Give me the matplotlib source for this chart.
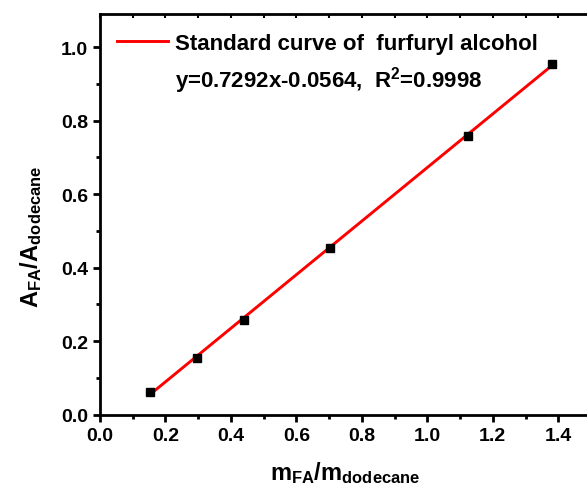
import numpy as np
import matplotlib
matplotlib.use('Agg')
import matplotlib.pyplot as plt
from matplotlib.ticker import MultipleLocator

plt.rcParams['font.family'] = ['Liberation Sans', 'DejaVu Sans']
plt.rcParams['font.weight'] = 'bold'
plt.rcParams['mathtext.fontset'] = 'custom'
plt.rcParams['mathtext.rm'] = 'Liberation Sans:bold'
plt.rcParams['mathtext.it'] = 'Liberation Sans:bold'
plt.rcParams['mathtext.bf'] = 'Liberation Sans:bold'

# measured points
m_ratio = [0.153, 0.295, 0.441, 0.704, 1.125, 1.382]
a_ratio = [0.061, 0.155, 0.258, 0.454, 0.758, 0.954]

# linear fit reported on the chart
slope = 0.7292
intercept = -0.0564

fig = plt.figure(figsize=(5.87, 5.02), dpi=100)
ax = fig.add_axes([100 / 587, (502 - 415.7) / 502, 491 / 587, 400.5 / 502])

xfit = np.array([m_ratio[0], m_ratio[-1]])
ax.plot(xfit, slope * xfit + intercept, color='red', lw=2.1, zorder=2,
        label='Standard curve of  furfuryl alcohol')
ax.plot(m_ratio, a_ratio, 's', color='black', ms=6, zorder=3)

ax.set_xlim(0, 1.5)
ax.set_ylim(0, 1.09)
ax.xaxis.set_major_locator(MultipleLocator(0.2))
ax.xaxis.set_minor_locator(MultipleLocator(0.1))
ax.yaxis.set_major_locator(MultipleLocator(0.2))
ax.yaxis.set_minor_locator(MultipleLocator(0.1))

for s in ax.spines.values():
    s.set_linewidth(2.0)
ax.tick_params(which='major', direction='out', length=5, width=2.0, labelsize=14,
               top=False, right=False)
ax.tick_params(which='minor', direction='out', length=3, width=2.0,
               top=False, right=False)
for lab in ax.get_xticklabels() + ax.get_yticklabels():
    lab.set_fontweight('bold')

# small inward ticks along the top edge
top = ax.secondary_xaxis('top')
top.xaxis.set_major_locator(MultipleLocator(0.1))
top.tick_params(direction='in', length=3, width=1.5, labeltop=False)
top.spines['top'].set_visible(False)

ax.set_xlabel(r'm$_{FA}$/m$_{dodecane}$', fontsize=17, fontweight='bold', labelpad=11)
ax.set_ylabel(r'A$_{FA}$/A$_{dodecane}$', fontsize=17, fontweight='bold')
ax.yaxis.set_label_coords(-0.114, 0.446)

leg = ax.legend(loc='upper left', bbox_to_anchor=(0.0346, 0.953), frameon=False,
                fontsize=16, handlelength=2.3, handletextpad=0.3,
                borderpad=0, borderaxespad=0)
for t in leg.get_texts():
    t.set_fontweight('bold')

ax.text(0.153, 0.838, 'y=0.7292x-0.0564,  R$^{2}$=0.9998', transform=ax.transAxes,
        fontsize=16, fontweight='bold', ha='left', va='center')

fig.savefig('out.png', dpi=100)
